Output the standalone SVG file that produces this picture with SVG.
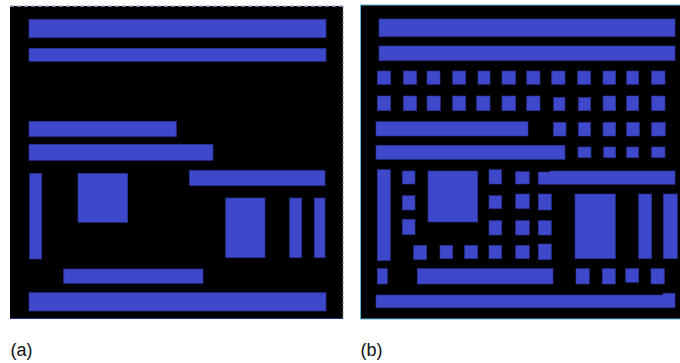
<svg xmlns="http://www.w3.org/2000/svg" width="680" height="363" viewBox="0 0 680 363">
  <style>
    .blk { fill: #3e48cb; stroke: #2b3190; stroke-width: 0.7; }
    .lbl { font-family: "Liberation Sans", Arial, sans-serif; font-size: 18px; fill: #111; }
  </style>
  <rect width="680" height="363" fill="#ffffff"/>

  <!-- left layout -->
  <g id="panel-a">
    <rect x="10" y="6" width="333" height="312.5" fill="#000"/>
    <line x1="10" y1="6" x2="343" y2="6" stroke="#a9a9d8" stroke-width="1.5" stroke-dasharray="4 3"/>
    <line x1="343" y1="6" x2="343" y2="318" stroke="#888" stroke-width="1" stroke-dasharray="3 2"/>
    <line x1="10" y1="318.5" x2="343" y2="318.5" stroke="#1e2a8a" stroke-width="1"/>
    <rect class="blk" x="29" y="19.3" width="297" height="18.4"/>
    <rect class="blk" x="29" y="48.3" width="297" height="13"/>
    <rect class="blk" x="29" y="121.3" width="147.3" height="15.4"/>
    <rect class="blk" x="29" y="144.3" width="184" height="16"/>
    <rect class="blk" x="29.7" y="173.3" width="12" height="85.7"/>
    <rect class="blk" x="78" y="173.3" width="49.7" height="49"/>
    <rect class="blk" x="189.3" y="170.3" width="135.7" height="15.4"/>
    <rect class="blk" x="225.7" y="198" width="39.3" height="59.7"/>
    <rect class="blk" x="289.7" y="198" width="12" height="59.7"/>
    <rect class="blk" x="314.3" y="198" width="10.7" height="59.7"/>
    <rect class="blk" x="63.7" y="269" width="139.3" height="14.3"/>
    <rect class="blk" x="29" y="292.7" width="297" height="18.3"/>
  </g>

  <!-- right layout -->
  <g id="panel-b">
    <rect x="360.5" y="5" width="321" height="314" fill="#000" stroke="#5ab8d8" stroke-width="1"/>
    <rect class="blk" x="379" y="19" width="296" height="17.7"/>
    <rect class="blk" x="379" y="46" width="296" height="14.7"/>

    <!-- first row of pads -->
    <g id="pads-row-1">
      <rect class="blk" x="377.3" y="71" width="13.4" height="13.3"/>
      <rect class="blk" x="403.3" y="71" width="13.4" height="13.3"/>
      <rect class="blk" x="427" y="71" width="13" height="13.3"/>
      <rect class="blk" x="452.7" y="71" width="13" height="13.3"/>
      <rect class="blk" x="478" y="71" width="12" height="13.3"/>
      <rect class="blk" x="502" y="71" width="13.7" height="13.3"/>
      <rect class="blk" x="526.7" y="71" width="13.3" height="13.3"/>
      <rect class="blk" x="551.7" y="71" width="13.3" height="13.3"/>
      <rect class="blk" x="577.7" y="71" width="13" height="13.3"/>
      <rect class="blk" x="603" y="71" width="12.7" height="13.3"/>
      <rect class="blk" x="626.7" y="71" width="12" height="13.3"/>
      <rect class="blk" x="651.7" y="71" width="13.3" height="13.3"/>
    </g>
    <!-- second row of pads -->
    <g id="pads-row-2">
      <rect class="blk" x="377.3" y="96" width="13.4" height="14.7"/>
      <rect class="blk" x="403.3" y="96" width="13.4" height="14.7"/>
      <rect class="blk" x="427" y="96" width="13.3" height="14.7"/>
      <rect class="blk" x="452.7" y="96" width="13" height="14.7"/>
      <rect class="blk" x="476.7" y="96" width="13.3" height="14.7"/>
      <rect class="blk" x="502" y="96" width="13.7" height="14.7"/>
      <rect class="blk" x="526.7" y="96" width="13.3" height="14.7"/>
      <rect class="blk" x="553.7" y="97.5" width="11.3" height="13.2"/>
      <rect class="blk" x="578.3" y="97.5" width="12.4" height="13.2"/>
      <rect class="blk" x="603" y="96" width="12.7" height="14.7"/>
      <rect class="blk" x="626.7" y="96" width="12" height="14.7"/>
      <rect class="blk" x="651.7" y="96" width="13.3" height="14.7"/>
    </g>

    <rect class="blk" x="376" y="121.7" width="152" height="14.3"/>
    <rect class="blk" x="553.3" y="122.3" width="12.7" height="13.7"/>
    <rect class="blk" x="578.3" y="122.3" width="12.4" height="13.7"/>
    <rect class="blk" x="603" y="122.3" width="12.7" height="13.7"/>
    <rect class="blk" x="626.7" y="122.3" width="12.6" height="13.7"/>
    <rect class="blk" x="651.7" y="122.3" width="13.6" height="13.7"/>

    <rect class="blk" x="376" y="145.3" width="189" height="14"/>
    <rect class="blk" x="578" y="147" width="13" height="10.7"/>
    <rect class="blk" x="603.7" y="147" width="12" height="10.7"/>
    <rect class="blk" x="626.7" y="147" width="12" height="10.7"/>
    <rect class="blk" x="651.7" y="147" width="13.3" height="10.7"/>

    <!-- middle band -->
    <rect class="blk" x="377.3" y="169.7" width="13" height="91"/>
    <rect class="blk" x="402.3" y="171" width="12.7" height="13"/>
    <rect class="blk" x="402.3" y="195.7" width="12.7" height="14.3"/>
    <rect class="blk" x="402.3" y="219.3" width="12.7" height="15.4"/>
    <rect class="blk" x="428" y="171" width="49.7" height="51"/>

    <rect class="blk" x="489" y="169.7" width="12.7" height="14.3"/>
    <rect class="blk" x="489" y="195.7" width="12.7" height="13"/>
    <rect class="blk" x="489" y="220.7" width="12.7" height="14.3"/>
    <rect class="blk" x="515.7" y="171.7" width="13.6" height="12.3"/>
    <rect class="blk" x="515.7" y="194" width="13.6" height="14.7"/>
    <rect class="blk" x="515.7" y="220.7" width="13.6" height="14.3"/>
    <rect class="blk" x="538.3" y="194" width="13" height="16"/>
    <rect class="blk" x="538.3" y="220.7" width="13" height="14.3"/>

    <rect class="blk" x="413.7" y="245.3" width="13" height="14.4"/>
    <rect class="blk" x="440" y="245.3" width="12.7" height="13.4"/>
    <rect class="blk" x="464.7" y="245.3" width="13" height="13.4"/>
    <rect class="blk" x="489" y="245.3" width="12.7" height="13.4"/>
    <rect class="blk" x="515.7" y="245.3" width="13.6" height="13.4"/>
    <rect class="blk" x="538.3" y="244" width="13" height="15.7"/>

    <path class="blk" d="M538.3 172 H550 V171 H675 V184.3 H538.3 Z"/>
    <rect class="blk" x="575" y="194" width="40.3" height="64.7"/>
    <rect class="blk" x="638.7" y="194" width="13" height="64.7"/>
    <rect class="blk" x="663.3" y="194" width="14" height="64.7"/>

    <!-- lower band -->
    <rect class="blk" x="377.3" y="268.7" width="10" height="15.3"/>
    <rect class="blk" x="417.3" y="268.7" width="135.7" height="15.3"/>
    <rect class="blk" x="576" y="268.7" width="13.3" height="15.3"/>
    <rect class="blk" x="602.3" y="268.7" width="13" height="15.3"/>
    <rect class="blk" x="625.7" y="268.7" width="13" height="13.6"/>
    <rect class="blk" x="651" y="268.7" width="13.3" height="15.3"/>
    <path class="blk" d="M376 295 H663 V293.3 H675 V307.7 H376 Z"/>
  </g>

  <text class="lbl" x="10.5" y="356">(a)</text>
  <text class="lbl" x="360.5" y="356">(b)</text>
</svg>
